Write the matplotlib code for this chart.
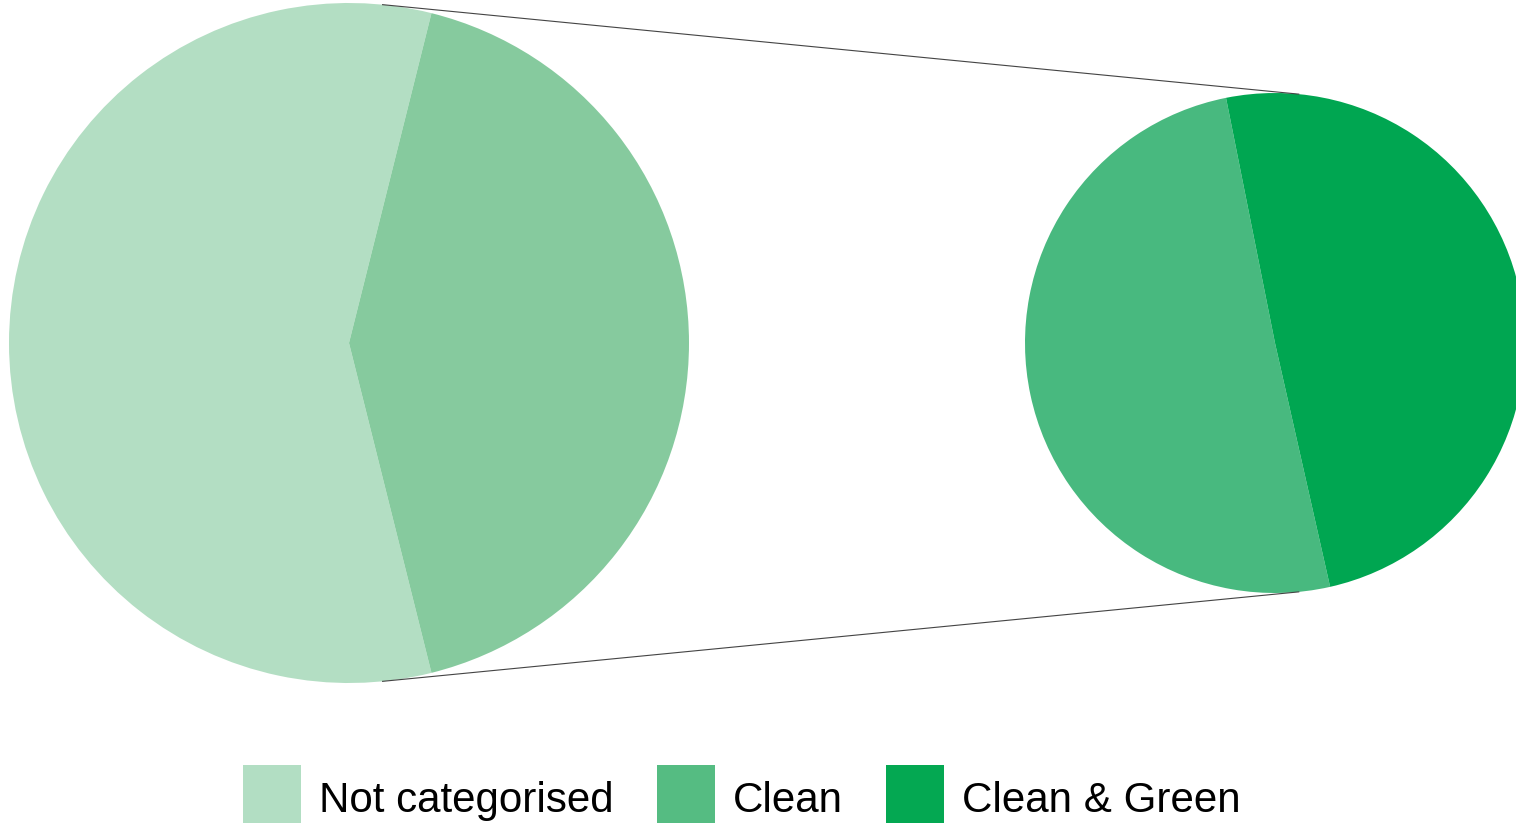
import numpy as np
import matplotlib
matplotlib.use('Agg')
import matplotlib.pyplot as plt
from matplotlib.patches import Patch, Rectangle
from matplotlib.legend_handler import HandlerPatch

plt.rcParams['font.family'] = ['Liberation Sans', 'DejaVu Sans']

# overall split, then breakdown of the categorised share
overall_labels = ['Not categorised', 'Categorised']
overall_share = [57.8, 42.2]
detail_labels = ['Clean', 'Clean & Green']
detail_share = [50.4, 49.6]

legend_labels = ['Not categorised', 'Clean', 'Clean & Green']
legend_colors = ['#b2dec3', '#55bc82', '#04a852']

overall_colors = ['#b3dec3', '#86ca9e']
detail_colors = ['#48b97f', '#00a651']

W, H = 1516, 824
fig = plt.figure(figsize=(W / 100, H / 100), dpi=100)
ax = fig.add_axes([0, 0, 1, 1])

c1, r1 = np.array([349.0, 481.0]), 340.0
c2, r2 = np.array([1275.0, 481.0]), 250.0

# categorised wedge centred on the right-hand side
start1 = 180 * overall_share[1] / sum(overall_share)
ax.pie(overall_share, colors=overall_colors, startangle=start1,
       center=tuple(c1), radius=r1, frame=True,
       wedgeprops=dict(linewidth=0))
ax.pie(detail_share, colors=detail_colors, startangle=101.3,
       center=tuple(c2), radius=r2, frame=True,
       wedgeprops=dict(linewidth=0))
ax.set_xlim(0, W)
ax.set_ylim(0, H)
ax.set_aspect('equal')
ax.axis('off')

# outer tangents joining the two pies
d = np.linalg.norm(c2 - c1)
theta = np.arccos((r1 - r2) / d)
for sgn in (1, -1):
    a = sgn * theta
    p1 = c1 + r1 * np.array([np.cos(a), np.sin(a)])
    p2 = c2 + r2 * np.array([np.cos(a), np.sin(a)])
    ax.plot([p1[0], p2[0]], [p1[1], p2[1]], color='#444444', lw=0.8,
            solid_capstyle='butt')


def square_patch(legend, orig_handle, xdescent, ydescent, width, height, fontsize):
    # square key sitting slightly below the text baseline
    return Rectangle((-xdescent, -0.27 * fontsize), width, width)


handles = [Patch(facecolor=c, edgecolor='none') for c in legend_colors]
fig.legend(handles, legend_labels, loc='lower left',
           bbox_to_anchor=(243 / W, 2 / H), ncol=3, frameon=False,
           fontsize=30.3, handlelength=1.38, handleheight=1.38,
           handletextpad=0.43, columnspacing=1.02,
           borderpad=0, borderaxespad=0,
           handler_map={Patch: HandlerPatch(patch_func=square_patch)})

fig.savefig('out.png', dpi=100)
